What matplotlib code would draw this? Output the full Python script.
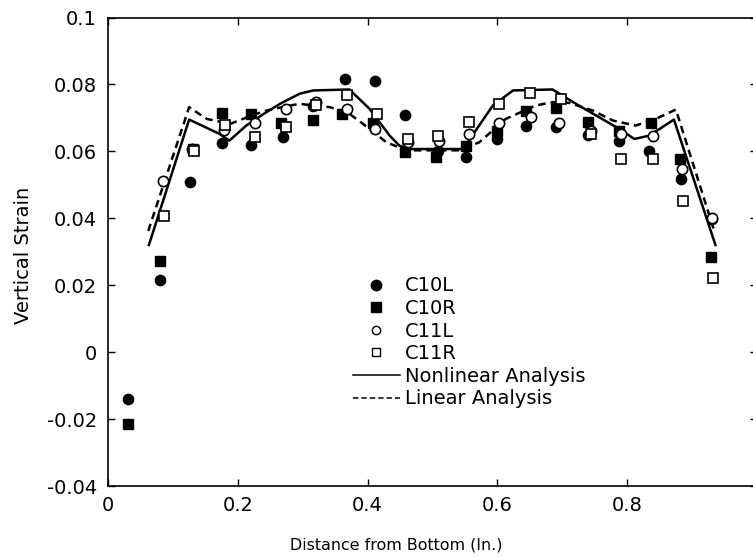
import matplotlib
matplotlib.use("Agg")
import matplotlib.pyplot as plt
from matplotlib.lines import Line2D
from matplotlib.ticker import FuncFormatter

plt.rcParams['font.family'] = ['DejaVu Sans']
plt.rcParams['axes.unicode_minus'] = False

c10l_x = [0.031, 0.080, 0.127, 0.175, 0.221, 0.269, 0.316, 0.365, 0.411, 0.457,
          0.508, 0.552, 0.599, 0.644, 0.691, 0.739, 0.787, 0.834, 0.883, 0.931]
c10l_y = [-0.0139, 0.0217, 0.0509, 0.0625, 0.0619, 0.0644, 0.0735, 0.0817, 0.0809, 0.0709,
          0.0600, 0.0582, 0.0637, 0.0677, 0.0672, 0.0649, 0.0630, 0.0602, 0.0518, 0.0397]

c10r_x = [0.031, 0.080, 0.131, 0.175, 0.221, 0.267, 0.316, 0.361, 0.408, 0.457,
          0.505, 0.551, 0.599, 0.644, 0.691, 0.739, 0.787, 0.836, 0.882, 0.929]
c10r_y = [-0.0214, 0.0271, 0.0607, 0.0715, 0.0712, 0.0685, 0.0695, 0.0712, 0.0685, 0.0597,
          0.0583, 0.0617, 0.0662, 0.0722, 0.0729, 0.0687, 0.0662, 0.0685, 0.0576, 0.0283]

c11l_x = [0.085, 0.130, 0.178, 0.226, 0.274, 0.320, 0.368, 0.412, 0.463,
          0.510, 0.556, 0.603, 0.652, 0.695, 0.744, 0.790, 0.839, 0.885, 0.931]
c11l_y = [0.0512, 0.0608, 0.0665, 0.0685, 0.0727, 0.0747, 0.0727, 0.0667, 0.0627,
          0.0630, 0.0652, 0.0685, 0.0702, 0.0685, 0.0662, 0.0652, 0.0645, 0.0546, 0.0400]

c11r_x = [0.086, 0.133, 0.180, 0.226, 0.274, 0.320, 0.368, 0.415, 0.463,
          0.508, 0.557, 0.603, 0.651, 0.698, 0.744, 0.791, 0.839, 0.886, 0.932]
c11r_y = [0.0407, 0.0600, 0.0680, 0.0642, 0.0672, 0.0740, 0.0767, 0.0712, 0.0637,
          0.0647, 0.0689, 0.0742, 0.0775, 0.0755, 0.0652, 0.0578, 0.0578, 0.0453, 0.0223]

# Analysis curves
nonlin_x = [0.063, 0.125, 0.172, 0.187, 0.213, 0.240, 0.265, 0.295, 0.316, 0.372, 0.403,
            0.434, 0.449, 0.465, 0.529, 0.547, 0.593, 0.624, 0.685, 0.721, 0.788,
            0.811, 0.834, 0.872, 0.936]
nonlin_y = [0.0320, 0.0695, 0.0652, 0.0632, 0.0677, 0.0712, 0.0742, 0.0772, 0.0782, 0.0785, 0.0727,
            0.0647, 0.0617, 0.0607, 0.0607, 0.0607, 0.0737, 0.0782, 0.0785, 0.0742, 0.0667,
            0.0637, 0.0647, 0.0695, 0.0320]

lin_x = [0.062, 0.125, 0.152, 0.188, 0.208, 0.240, 0.275, 0.295, 0.342, 0.370, 0.393,
         0.429, 0.460, 0.540, 0.572, 0.613, 0.659, 0.685, 0.710, 0.747, 0.778,
         0.813, 0.844, 0.875, 0.935]
lin_y = [0.0362, 0.0732, 0.0697, 0.0682, 0.0697, 0.0720, 0.0735, 0.0742, 0.0732, 0.0715, 0.0682,
         0.0627, 0.0603, 0.0603, 0.0627, 0.0697, 0.0737, 0.0747, 0.0745, 0.0722, 0.0692,
         0.0677, 0.0697, 0.0725, 0.0357]

x_ticks = [0, 0.2, 0.4, 0.6, 0.8, 1.0]
y_ticks = [-0.04, -0.02, 0, 0.02, 0.04, 0.06, 0.08, 0.1]

W, H = 753, 558
fig = plt.figure(figsize=(W / 100, H / 100), dpi=100)
# the original scan cuts the right edge of the frame off
left, right, top, bottom = 108, 757, 17.5, 486
ax = fig.add_axes([left / W, 1 - bottom / H, (right - left) / W, (bottom - top) / H])

# Lines
ax.plot(nonlin_x, nonlin_y, color='black', lw=1.8, zorder=2)
ax.plot(lin_x, lin_y, color='black', lw=1.8, dashes=(3, 2), zorder=2)

# Markers
ms = 7.4
ax.plot(c10l_x, c10l_y, 'o', ms=ms, mfc='black', mec='black', zorder=3)
ax.plot(c10r_x, c10r_y, 's', ms=ms, mfc='black', mec='black', zorder=3)
ax.plot(c11l_x, c11l_y, 'o', ms=ms, mfc='white', mec='black', mew=1.2, zorder=4)
ax.plot(c11r_x, c11r_y, 's', ms=ms, mfc='white', mec='black', mew=1.2, zorder=4)

ax.set_xlim(0, 1.0)
ax.set_ylim(-0.04, 0.1)
ax.set_xticks(x_ticks)
ax.set_yticks(y_ticks)
fmt = FuncFormatter(lambda v, p: '%g' % round(v, 4))
ax.xaxis.set_major_formatter(fmt)
ax.yaxis.set_major_formatter(fmt)
ax.tick_params(direction='in', length=5, width=1, labelsize=14,
               top=True, right=True)
ax.tick_params(axis='x', pad=7)
ax.tick_params(axis='y', pad=8)
for s in ax.spines.values():
    s.set_linewidth(1.2)

ax.set_xlabel('Distance from Bottom (In.)', fontsize=11.4)
ax.set_ylabel('Vertical Strain', fontsize=14)
ax.xaxis.set_label_coords(0.444, -0.109)
ax.yaxis.set_label_coords(-0.116, 0.493)

# Legend
handles = [
    Line2D([], [], ls='none', marker='o', ms=7.5, mfc='black', mec='black'),
    Line2D([], [], ls='none', marker='s', ms=6.5, mfc='black', mec='black'),
    Line2D([], [], ls='none', marker='o', ms=6, mfc='white', mec='black', mew=1),
    Line2D([], [], ls='none', marker='s', ms=6, mfc='white', mec='black', mew=1),
    Line2D([], [], color='black', lw=1.1),
    Line2D([], [], color='black', lw=1.1, dashes=(3.5, 2)),
]
labels = ['C10L', 'C10R', 'C11L', 'C11R', 'Nonlinear Analysis', 'Linear Analysis']
ax.legend(handles, labels, loc='upper left', bbox_to_anchor=(353 / W, 1 - 276.5 / H),
          bbox_transform=fig.transFigure, frameon=False, fontsize=14,
          handlelength=2.4, handletextpad=0.26, labelspacing=0.185,
          borderpad=0, borderaxespad=0)

fig.savefig('out.png', dpi=100)
